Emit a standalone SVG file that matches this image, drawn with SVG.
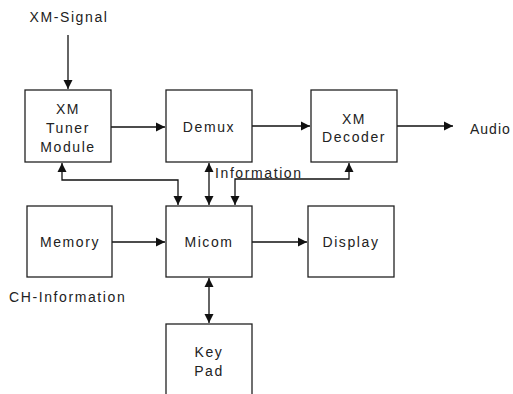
<svg xmlns="http://www.w3.org/2000/svg" width="513" height="394" viewBox="0 0 513 394">
<style>
.box{fill:#fff;stroke:#222;stroke-width:1.3}
.t{font-family:"Liberation Sans",Arial,sans-serif;font-size:14px;letter-spacing:1.6px;fill:#222;text-anchor:middle}
.tl{font-family:"Liberation Sans",Arial,sans-serif;font-size:14px;letter-spacing:1.6px;fill:#222}
.c{fill:none;stroke:#111;stroke-width:1.3}
</style>
<defs>
<marker id="ah" markerWidth="10" markerHeight="10" refX="9" refY="5" orient="auto-start-reverse" markerUnits="userSpaceOnUse">
<path d="M0,0.5 L9,5 L0,9.5 Z" fill="#111"/>
</marker>
</defs>
<rect width="513" height="394" fill="#fff"/>
<g id="connectors">
<line class="c" x1="68" y1="35" x2="68" y2="89" marker-end="url(#ah)"/>
<line class="c" x1="111" y1="127" x2="165" y2="127" marker-end="url(#ah)"/>
<line class="c" x1="252" y1="126" x2="310" y2="126" marker-end="url(#ah)"/>
<line class="c" x1="397" y1="126" x2="453" y2="126" marker-end="url(#ah)"/>
<line class="c" x1="112" y1="242" x2="165" y2="242" marker-end="url(#ah)"/>
<line class="c" x1="252" y1="242" x2="307" y2="242" marker-end="url(#ah)"/>
<polyline class="c" points="62,163 62,180 178,180 178,205" marker-start="url(#ah)" marker-end="url(#ah)"/>
<line class="c" x1="209" y1="163" x2="209" y2="205" marker-start="url(#ah)" marker-end="url(#ah)"/>
<polyline class="c" points="349,163 349,179 235,179 235,205" marker-start="url(#ah)" marker-end="url(#ah)"/>
<line class="c" x1="209" y1="278" x2="209" y2="323" marker-start="url(#ah)" marker-end="url(#ah)"/>
</g>
<g id="xm-signal"><text class="t" x="69" y="22">XM-Signal</text></g>
<g id="tuner">
<rect class="box" x="25" y="90" width="86" height="72"/>
<text class="t" x="68" y="114">XM</text>
<text class="t" x="68" y="133">Tuner</text>
<text class="t" x="68" y="152">Module</text>
</g>
<g id="demux">
<rect class="box" x="166" y="90" width="86" height="72"/>
<text class="t" x="209" y="132">Demux</text>
</g>
<g id="decoder">
<rect class="box" x="311" y="90" width="86" height="72"/>
<text class="t" x="354" y="124">XM</text>
<text class="t" x="354" y="142">Decoder</text>
</g>
<g id="audio"><text class="tl" x="470" y="134" style="letter-spacing:1px">Audio</text></g>
<g id="information"><text class="tl" x="215" y="178">Information</text></g>
<g id="memory">
<rect class="box" x="27" y="206" width="85" height="71"/>
<text class="t" x="70" y="247">Memory</text>
</g>
<g id="ch-information"><text class="tl" x="9" y="302">CH-Information</text></g>
<g id="micom">
<rect class="box" x="166" y="206" width="86" height="71"/>
<text class="t" x="209" y="247">Micom</text>
</g>
<g id="display">
<rect class="box" x="308" y="206" width="86" height="71"/>
<text class="t" x="351" y="247">Display</text>
</g>
<g id="keypad">
<rect class="box" x="166" y="324" width="86" height="74"/>
<text class="t" x="209" y="357">Key</text>
<text class="t" x="209" y="376">Pad</text>
</g>
</svg>
